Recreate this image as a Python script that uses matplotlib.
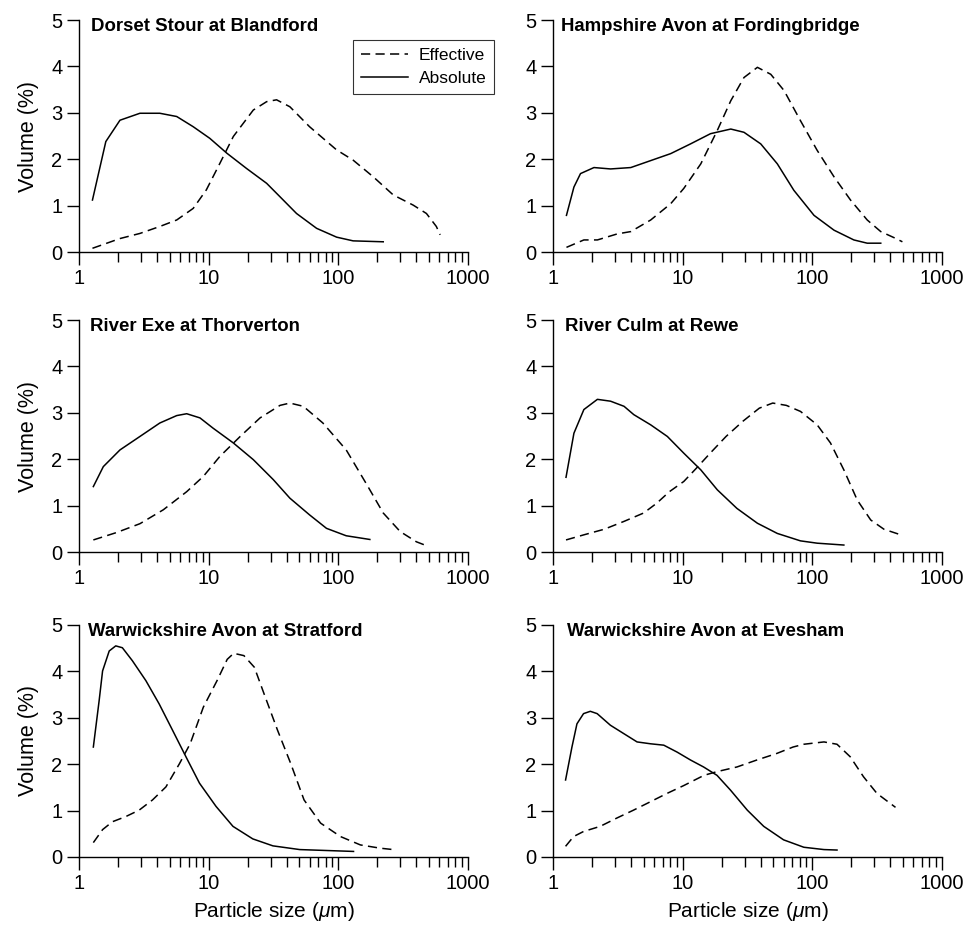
"""Particle size distributions, effective vs absolute, six river sites"""

import matplotlib
matplotlib.use("Agg")
import matplotlib.pyplot as plt
from matplotlib.ticker import LogLocator, NullFormatter, FixedFormatter, FixedLocator

plt.rcParams["font.family"] = ["Liberation Sans", "DejaVu Sans"]
plt.rcParams["mathtext.fontset"] = "custom"
plt.rcParams["mathtext.rm"] = "Liberation Sans"
plt.rcParams["mathtext.it"] = "Liberation Sans:italic"

titles = [
    "Dorset Stour at Blandford",
    "Hampshire Avon at Fordingbridge",
    "River Exe at Thorverton",
    "River Culm at Rewe",
    "Warwickshire Avon at Stratford",
    "Warwickshire Avon at Evesham",
]

# Dorset Stour at Blandford
stour_abs_x = [1.27, 1.61, 2.07, 2.95, 4.2, 5.67, 7.6, 10.2, 13.8, 19.6, 28, 35.5, 47.6, 68, 97, 130, 222]
stour_abs_y = [1.12, 2.38, 2.84, 2.99, 2.99, 2.92, 2.70, 2.45, 2.13, 1.80, 1.48, 1.19, 0.83, 0.51, 0.32, 0.24, 0.22]
stour_eff_x = [1.27, 2.07, 2.95, 4.2, 5.67, 7.6, 9.6, 12.2, 15.5, 22.1, 28, 33.4, 42.3, 60, 97, 130, 186, 265, 378, 478, 570, 610]
stour_eff_y = [0.08, 0.29, 0.40, 0.55, 0.69, 0.94, 1.34, 1.91, 2.49, 3.06, 3.24, 3.28, 3.13, 2.70, 2.20, 1.98, 1.62, 1.23, 1.01, 0.83, 0.55, 0.37]

# Hampshire Avon at Fordingbridge
hants_abs_x = [1.27, 1.45, 1.63, 2.07, 2.78, 3.98, 5.67, 8.08, 11.5, 16.4, 23.5, 29.7, 40, 53.7, 72, 103, 147, 209, 265, 337]
hants_abs_y = [0.79, 1.40, 1.69, 1.82, 1.79, 1.82, 1.97, 2.12, 2.33, 2.55, 2.65, 2.58, 2.33, 1.90, 1.33, 0.79, 0.47, 0.26, 0.19, 0.19]
hants_eff_x = [1.27, 1.73, 2.2, 3.13, 3.98, 5.67, 8.08, 10.2, 13.8, 18.5, 23.5, 29.7, 37.7, 47.8, 60.5, 81, 109, 147, 197, 265, 337, 426, 495]
hants_eff_y = [0.10, 0.26, 0.26, 0.39, 0.44, 0.69, 1.04, 1.37, 1.90, 2.62, 3.26, 3.76, 3.98, 3.83, 3.48, 2.83, 2.19, 1.62, 1.12, 0.69, 0.44, 0.31, 0.22]

# River Exe at Thorverton
exe_abs_x = [1.29, 1.54, 2.07, 2.95, 4.2, 5.67, 6.77, 8.57, 10.8, 15.5, 22.1, 31.5, 42.3, 60, 81, 115, 175]
exe_abs_y = [1.41, 1.84, 2.20, 2.49, 2.78, 2.94, 2.98, 2.89, 2.67, 2.35, 1.99, 1.56, 1.16, 0.80, 0.51, 0.35, 0.27]
exe_eff_x = [1.29, 1.95, 2.95, 4.47, 6.77, 9.1, 12.2, 17.5, 24.9, 35.5, 42.3, 53.7, 76, 115, 166, 222, 300, 400, 495]
exe_eff_y = [0.26, 0.42, 0.61, 0.91, 1.30, 1.63, 2.06, 2.49, 2.89, 3.16, 3.21, 3.14, 2.78, 2.20, 1.45, 0.84, 0.44, 0.22, 0.12]

# River Culm at Rewe
culm_abs_x = [1.26, 1.45, 1.73, 2.2, 2.78, 3.53, 4.2, 5.67, 7.62, 10.2, 13.8, 18.5, 26.2, 37.7, 53.7, 81, 109, 175]
culm_abs_y = [1.61, 2.56, 3.07, 3.29, 3.25, 3.14, 2.96, 2.74, 2.49, 2.13, 1.77, 1.34, 0.94, 0.62, 0.40, 0.24, 0.19, 0.15]
culm_eff_x = [1.26, 1.73, 2.48, 3.53, 5.0, 6.3, 7.9, 10.2, 12.8, 16.3, 21.6, 29.2, 39, 49.5, 63, 81, 109, 138, 175, 222, 282, 357, 481]
culm_eff_y = [0.26, 0.37, 0.49, 0.66, 0.84, 1.05, 1.30, 1.52, 1.81, 2.13, 2.49, 2.82, 3.10, 3.21, 3.16, 3.03, 2.74, 2.35, 1.77, 1.12, 0.69, 0.49, 0.37]

# Warwickshire Avon at Stratford
strat_abs_x = [1.29, 1.43, 1.52, 1.71, 1.92, 2.16, 2.58, 3.28, 4.15, 5.27, 6.68, 8.5, 11.4, 15.4, 21.9, 31.3, 50.4, 81, 131]
strat_abs_y = [2.37, 3.37, 4.01, 4.44, 4.55, 4.51, 4.23, 3.80, 3.30, 2.73, 2.16, 1.59, 1.09, 0.66, 0.39, 0.24, 0.16, 0.14, 0.12]
strat_eff_x = [1.29, 1.52, 1.81, 2.29, 2.91, 3.69, 4.68, 5.95, 7.2, 9.1, 11.6, 13.9, 15.6, 18.7, 22.5, 26.8, 34, 43, 54.4, 73, 104, 148, 210, 265]
strat_eff_y = [0.31, 0.59, 0.76, 0.87, 1.01, 1.23, 1.51, 2.01, 2.44, 3.23, 3.80, 4.26, 4.39, 4.34, 4.09, 3.51, 2.73, 2.01, 1.23, 0.73, 0.44, 0.26, 0.19, 0.16]

# Warwickshire Avon at Evesham
eves_abs_x = [1.25, 1.40, 1.53, 1.72, 1.94, 2.19, 2.77, 3.51, 4.45, 5.65, 7.15, 9.07, 11.5, 14.5, 18.4, 23.4, 31.5, 42.2, 60, 86, 123, 155]
eves_abs_y = [1.66, 2.37, 2.87, 3.09, 3.14, 3.09, 2.84, 2.66, 2.48, 2.44, 2.41, 2.26, 2.09, 1.94, 1.76, 1.44, 1.01, 0.66, 0.37, 0.21, 0.16, 0.15]
eves_eff_x = [1.25, 1.44, 1.72, 2.31, 3.11, 4.18, 5.63, 7.57, 10.2, 14.6, 18.4, 26.2, 37.3, 53, 71, 86, 123, 155, 196, 248, 315, 438]
eves_eff_y = [0.23, 0.44, 0.55, 0.66, 0.84, 1.01, 1.19, 1.37, 1.54, 1.76, 1.84, 1.94, 2.09, 2.23, 2.37, 2.43, 2.48, 2.43, 2.16, 1.73, 1.37, 1.07]

x_ticks = [1, 10, 100, 1000]
x_tick_labels = ["1", "10", "100", "1000"]
y_ticks = [0, 1, 2, 3, 4, 5]

panels = [
    (stour_eff_x, stour_eff_y, stour_abs_x, stour_abs_y),
    (hants_eff_x, hants_eff_y, hants_abs_x, hants_abs_y),
    (exe_eff_x, exe_eff_y, exe_abs_x, exe_abs_y),
    (culm_eff_x, culm_eff_y, culm_abs_x, culm_abs_y),
    (strat_eff_x, strat_eff_y, strat_abs_x, strat_abs_y),
    (eves_eff_x, eves_eff_y, eves_abs_x, eves_abs_y),
]
title_x = [0.03, 0.02, 0.028, 0.03, 0.022, 0.037]

fig = plt.figure(figsize=(9.68, 9.25), dpi=100)

lefts = [79 / 968, 553 / 968]
bottoms = [(925 - 252) / 925, (925 - 552) / 925, (925 - 857) / 925]
width = 389 / 968
height = 232 / 925

for i, (ex, ey, ax_, ay) in enumerate(panels):
    row, col = divmod(i, 2)
    ax = fig.add_axes([lefts[col], bottoms[row], width, height])
    ax.plot(ex, ey, color="black", lw=1.1, ls=(0, (6, 3.5)), label="Effective")
    ax.plot(ax_, ay, color="black", lw=1.1, label="Absolute")

    ax.set_xscale("log")
    ax.set_xlim(1, 1000)
    ax.set_ylim(0, 5)
    ax.xaxis.set_major_locator(FixedLocator(x_ticks))
    ax.xaxis.set_major_formatter(FixedFormatter(x_tick_labels))
    ax.xaxis.set_minor_locator(LogLocator(base=10, subs=range(2, 10)))
    ax.xaxis.set_minor_formatter(NullFormatter())
    ax.set_yticks(y_ticks)

    for side in ["top", "right"]:
        ax.spines[side].set_visible(False)
    for side in ["left", "bottom"]:
        ax.spines[side].set_linewidth(1.0)
    ax.tick_params(which="major", direction="out", length=9, width=1.0,
                   labelsize=14.5, pad=3)
    ax.tick_params(which="minor", direction="out", length=7, width=1.0)

    ax.text(title_x[i], 0.953, titles[i], transform=ax.transAxes,
            fontsize=13.4, fontweight="bold", va="baseline", ha="left")

    if col == 0:
        ax.set_ylabel("Volume (%)", fontsize=15.5, labelpad=9)
    if row == 2:
        ax.set_xlabel(r"Particle size ($\mu$m)", fontsize=15, labelpad=5)

    if i == 0:
        # legend box pokes out past the right end of the axis, as in the original
        leg = ax.legend(loc="upper right", bbox_to_anchor=(1.067, 0.914),
                        fontsize=12.5, handlelength=2.7, frameon=True,
                        fancybox=False, borderpad=0.45, labelspacing=0.45,
                        handletextpad=0.63, borderaxespad=0)
        leg.get_frame().set_edgecolor("black")
        leg.get_frame().set_linewidth(0.8)

fig.savefig("out.png", dpi=100)
